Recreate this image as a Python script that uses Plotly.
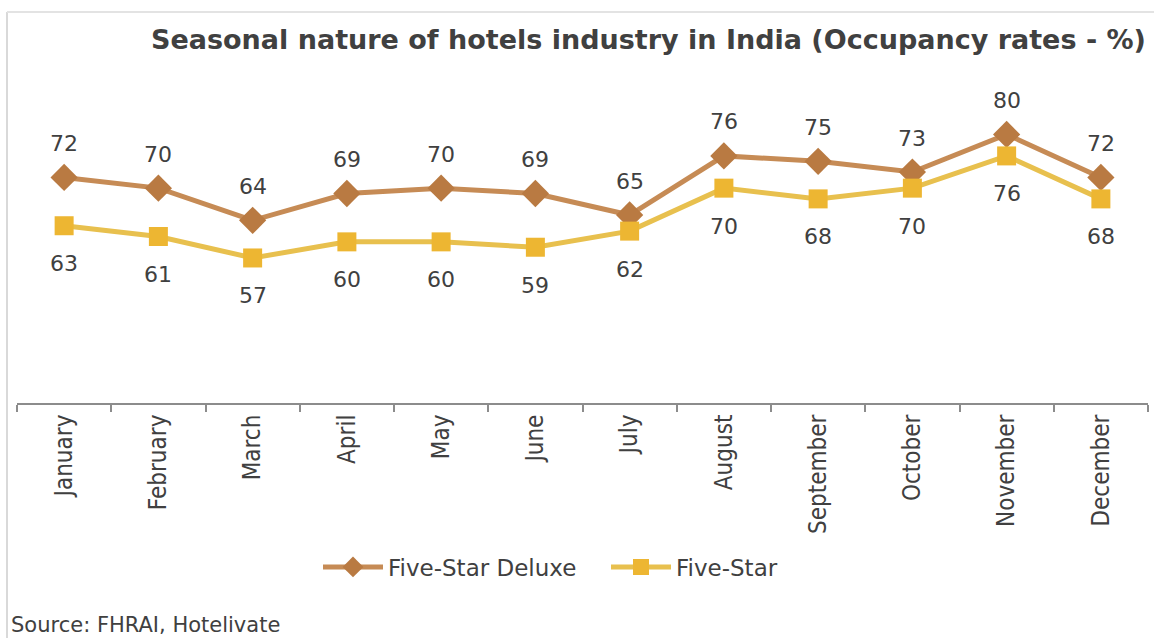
import plotly.graph_objects as go

months = ["January", "February", "March", "April", "May", "June", "July",
          "August", "September", "October", "November", "December"]
deluxe = [72, 70, 64, 69, 70, 69, 65, 76, 75, 73, 80, 72]
five_star = [63, 61, 57, 60, 60, 59, 62, 70, 68, 70, 76, 68]

title_text = "Seasonal nature of hotels industry in India (Occupancy rates - %)"
source_text = "Source: FHRAI, Hotelivate"

c_deluxe_line = "#C68B55"
c_deluxe_mark = "#B97A42"
c_five_line = "#E8C04E"
c_five_mark = "#EDB632"
label_color = "#404040"

fig = go.Figure()
fig.add_trace(go.Scatter(
    x=months, y=deluxe, name="Five-Star Deluxe", mode="lines+markers",
    line=dict(color=c_deluxe_line, width=5),
    marker=dict(symbol="diamond", size=21, color=c_deluxe_mark),
))
fig.add_trace(go.Scatter(
    x=months, y=five_star, name="Five-Star", mode="lines+markers",
    line=dict(color=c_five_line, width=5),
    marker=dict(symbol="square", size=19, color=c_five_mark),
))

annotations = []
for m, v in zip(months, deluxe):
    annotations.append(dict(x=m, y=v, text=str(v), showarrow=False, yshift=34,
                            font=dict(family="DejaVu Sans", size=22, color=label_color)))
for m, v in zip(months, five_star):
    annotations.append(dict(x=m, y=v, text=str(v), showarrow=False, yshift=-38,
                            font=dict(family="DejaVu Sans", size=22, color=label_color)))

annotations.append(dict(xref="paper", yref="paper", x=0.558, y=1 - 13/376, text="<b>" + title_text + "</b>",
                        showarrow=False, xanchor="center", yanchor="middle",
                        font=dict(family="DejaVu Sans", size=27, color="#404040")))
annotations.append(dict(xref="paper", yref="paper", x=-8/1131, y=-222/376, text=source_text,
                        showarrow=False, xanchor="left", yanchor="middle",
                        font=dict(family="DejaVu Sans", size=21, color="#404040")))

fig.update_layout(
    width=1154, height=638,
    margin=dict(l=17, r=6, t=27, b=235),
    paper_bgcolor="white", plot_bgcolor="white",
    showlegend=True,
    legend=dict(orientation="h", x=(318 - 17)/1131, xanchor="left", y=-164/376, yanchor="middle",
                font=dict(family="DejaVu Sans", size=23, color="#404040"),
                itemwidth=60, entrywidth=213, entrywidthmode="pixels",
                bgcolor="rgba(0,0,0,0)"),
    annotations=annotations,
    xaxis=dict(type="category", range=[-0.5, 11.5], showline=True, linecolor="#8C8C8C", linewidth=2,
               ticks="outside", tickson="boundaries", ticklen=7, tickcolor="#8C8C8C", tickwidth=2,
               tickangle=-90, showgrid=False, zeroline=False,
               tickfont=dict(family="DejaVu Sans Condensed, Liberation Sans Narrow, Liberation Sans",
                             size=24, color="#404040")),
    yaxis=dict(range=[30, 100], visible=False, showgrid=False, zeroline=False),
    shapes=[
        dict(type="line", xref="paper", yref="paper", x0=-10/1131, x1=-10/1131, y0=-235/376, y1=1 + 15/376,
             line=dict(color="#D9D9D9", width=2)),
        dict(type="line", xref="paper", yref="paper", x0=-10/1131, x1=1 + 6/1131, y0=1 + 15/376, y1=1 + 15/376,
             line=dict(color="#E3E3E3", width=2)),
    ],
)

fig.write_html("out.html")
